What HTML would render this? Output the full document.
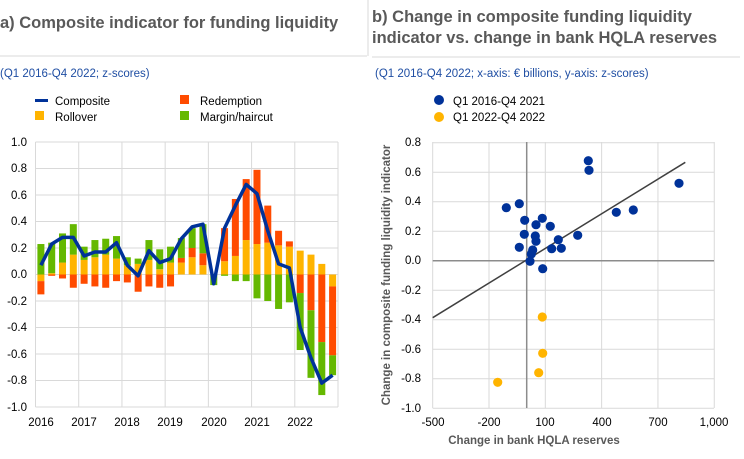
<!DOCTYPE html>
<html><head><meta charset="utf-8"><style>
body{margin:0;background:#fff;width:744px;height:459px;overflow:hidden;font-family:"Liberation Sans",sans-serif}
svg{position:absolute;left:0;top:0}
</style></head><body>
<svg id="s" width="744" height="459" viewBox="0 0 744 459" font-family="Liberation Sans, sans-serif">
<text x="0" y="28" font-size="16.5" font-weight="bold" fill="#595959">a) Composite indicator for funding liquidity</text>
<line x1="0" y1="56" x2="367" y2="56" stroke="#d9d9d9"/>
<line x1="368" y1="0" x2="368" y2="56" stroke="#d9d9d9"/>
<text x="0" y="77" font-size="11.5" fill="#1f4ea3">(Q1 2016-Q4 2022; z-scores)</text>
<rect x="35" y="99" width="13" height="3" fill="#003299"/>
<text x="55" y="105" font-size="11.5" fill="#000">Composite</text>
<rect x="35" y="111" width="9" height="9" fill="#ffb400"/>
<text x="55" y="121" font-size="11.5" fill="#000">Rollover</text>
<rect x="180" y="95" width="9" height="9" fill="#ff4b00"/>
<text x="200" y="105" font-size="11.5" fill="#000">Redemption</text>
<rect x="180" y="111" width="9" height="9" fill="#65b800"/>
<text x="200" y="121" font-size="11.5" fill="#000">Margin/haircut</text>

<text x="372" y="22" font-size="16.5" font-weight="bold" fill="#595959">b) Change in composite funding liquidity</text>
<text x="372" y="43" font-size="16.5" font-weight="bold" fill="#595959">indicator vs. change in bank HQLA reserves</text>
<line x1="372" y1="57" x2="740" y2="57" stroke="#d9d9d9"/>
<text x="375" y="77" font-size="11.5" fill="#1f4ea3">(Q1 2016-Q4 2022; x-axis: € billions, y-axis: z-scores)</text>
<circle cx="439" cy="100" r="5" fill="#003299"/>
<text x="453" y="105" font-size="11.5">Q1 2016-Q4 2021</text>
<circle cx="439" cy="117" r="5" fill="#ffb400"/>
<text x="453" y="121" font-size="11.5">Q1 2022-Q4 2022</text>

<g font-size="11.5" text-anchor="end">
<text x="27" y="146">1.0</text><text x="27" y="172">0.8</text><text x="27" y="199">0.6</text><text x="27" y="225">0.4</text><text x="27" y="252">0.2</text><text x="27" y="278">0.0</text><text x="27" y="305">-0.2</text><text x="27" y="331">-0.4</text><text x="27" y="358">-0.6</text><text x="27" y="384">-0.8</text><text x="27" y="411">-1.0</text>
</g>
<g font-size="11.5" text-anchor="middle">
<text x="41" y="426">2016</text><text x="84" y="426">2017</text><text x="127" y="426">2018</text><text x="170" y="426">2019</text><text x="214" y="426">2020</text><text x="257" y="426">2021</text><text x="300" y="426">2022</text>
</g>
<g font-size="11.5" text-anchor="end">
<text x="421" y="146">0.8</text><text x="421" y="176">0.6</text><text x="421" y="205">0.4</text><text x="421" y="235">0.2</text><text x="421" y="264">0.0</text><text x="421" y="294">-0.2</text><text x="421" y="323">-0.4</text><text x="421" y="353">-0.6</text><text x="421" y="382">-0.8</text><text x="421" y="412">-1.0</text>
</g>
<g font-size="11.5" text-anchor="middle">
<text x="433" y="426">-500</text><text x="489" y="426">-200</text><text x="545" y="426">100</text><text x="602" y="426">400</text><text x="658" y="426">700</text><text x="714" y="426">1,000</text>
</g>
<text x="534" y="444" font-size="11.5" font-weight="bold" fill="#595959" text-anchor="middle">Change in bank HQLA reserves</text>
<text transform="translate(390,275) rotate(-90)" font-size="11.5" font-weight="bold" fill="#595959" text-anchor="middle">Change in composite funding liquidity indicator</text>
<g id="L"></g><g id="R"></g>
</svg>
<script>
var NS="http://www.w3.org/2000/svg";
function el(p,t,a){var e=document.createElementNS(NS,t);for(var k in a)e.setAttribute(k,a[k]);p.appendChild(e);return e;}
var L=document.getElementById("L"),R=document.getElementById("R");
// left grid
var y0=274.5,sc=132.5,x0=35.5,qw=302.5/28;
for(var v=-1;v<=1.001;v+=0.2){var y=y0-v*sc;el(L,"line",{x1:x0,x2:338,y1:y,y2:y,stroke:"#d9d9d9"});}
for(var i=0;i<=7;i++){var x=x0+i*4*qw;el(L,"line",{x1:x,x2:x,y1:142,y2:407,stroke:"#d9d9d9"});}
// data: [yellow, orange, green] stacks; pos/neg separately
var d=[
[[0,0,.23],[-.05,-.10,0],.07],
[[.01,0,.23],[0,-.01,0],.23],
[[.09,0,.22],[0,-.03,0],.28],
[[.15,0,.23],[0,-.10,0],.28],
[[.11,0,.10],[0,-.07,0],.14],
[[.13,0,.13],[0,-.09,0],.17],
[[.15,0,.12],[0,-.10,0],.17],
[[.12,0,.17],[0,-.05,0],.24],
[[.07,0,.06],[0,-.06,0],.07],
[[.08,0,.04],[0,-.13,0],-.01],
[[.11,0,.15],[0,-.09,0],.18],
[[.04,0,.15],[0,-.10,0],.09],
[[.09,0,.12],[0,-.09,0],.12],
[[.09,.035,.15],[0,0,0],.27],
[[.13,.07,.15],[0,0,0],.36],
[[.07,.09,.22],[0,0,0],.38],
[[0,0,0],[0,0,-.08],-.07],
[[.10,.25,0],[0,0,-.01],.35],
[[.14,.43,0],[0,0,-.05],.52],
[[.26,.46,0],[0,0,-.05],.68],
[[.23,.56,0],[0,0,-.18],.61],
[[.24,.28,0],[0,0,-.20],.33],
[[.22,.11,0],[0,0,-.26],.08],
[[.21,.04,0],[0,0,-.21],.05],
[[.18,0,0],[0,-.14,-.43],-.40],
[[.15,0,0],[0,-.27,-.51],-.63],
[[.08,0,0],[0,-.51,-.40],-.82],
[[0,0,0],[-.09,-.52,-.15],-.76]];
var col=["#ffb400","#ff4b00","#65b800"],bw=7,pts=[];
d.forEach(function(r,i){var cx=x0+qw*(i+.5);
 var c=0;for(var k=0;k<3;k++){var h=r[0][k];if(h>0){el(L,"rect",{x:cx-bw/2,y:y0-(c+h)*sc,width:bw,height:h*sc,fill:col[k]});c+=h;}}
 c=0;for(var k=0;k<3;k++){var h=-r[1][k];if(h>0){el(L,"rect",{x:cx-bw/2,y:y0+c*sc,width:bw,height:h*sc,fill:col[k]});c+=h;}}
 pts.push(cx+","+(y0-r[2]*sc));});
el(L,"polyline",{points:pts.join(" "),fill:"none",stroke:"#003299","stroke-width":3.5,"stroke-linejoin":"round"});
// right grid
var ry0=260.7,rs=147.5,rx0=432.7,rxs=0.1877;
for(var v=-1;v<=0.801;v+=0.2){var y=ry0-v*rs;el(R,"line",{x1:rx0,x2:714,y1:y,y2:y,stroke:"#d9d9d9"});}
for(var v=-500;v<=1000;v+=300){var x=rx0+(v+500)*rxs;el(R,"line",{x1:x,x2:x,y1:142,y2:408,stroke:"#d9d9d9"});}
el(R,"line",{x1:rx0,x2:714,y1:ry0,y2:ry0,stroke:"#8c8c8c","stroke-width":1.5});
el(R,"line",{x1:526.7,x2:526.7,y1:142,y2:408,stroke:"#8c8c8c","stroke-width":1.5});
el(R,"line",{x1:432.7,y1:317.7,x2:685.3,y2:162.3,stroke:"#404040","stroke-width":1.5});
var b=[[506.3,207.7],[519.3,203.7],[524.7,220.3],[524.3,234.3],[519.3,247.3],[536,224.7],[542.3,218.3],[550.3,226.3],[535.3,236],[536,241.3],[558.3,239.7],[532.7,250],[531.3,254],[530,261.3],[551.7,248.7],[561.3,248.3],[542.7,268.7],[577.7,235.3],[588.3,160.7],[589,170.3],[616.3,212.3],[633.3,210],[679,183.3]];
b.forEach(function(p){el(R,"circle",{cx:p[0],cy:p[1],r:4.6,fill:"#003299"});});
[[542.3,317],[542.7,353.3],[538.7,372.7],[497.7,382.3]].forEach(function(p){el(R,"circle",{cx:p[0],cy:p[1],r:4.6,fill:"#ffb400"});});
</script>
</body></html>
